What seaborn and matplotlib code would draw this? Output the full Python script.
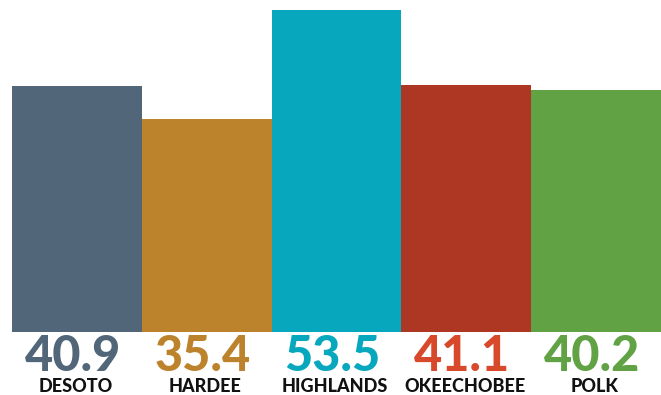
import matplotlib
matplotlib.use("Agg")
import matplotlib.pyplot as plt
import seaborn as sns
import pandas as pd

counties = ["DESOTO", "HARDEE", "HIGHLANDS", "OKEECHOBEE", "POLK"]
values = [40.9, 35.4, 53.5, 41.1, 40.2]
value_labels = ["40.9", "35.4", "53.5", "41.1", "40.2"]

bar_colors = ["#526679", "#bc822c", "#07a7bd", "#ad3723", "#61a244"]
label_colors = ["#526679", "#bc822c", "#07a7bd", "#d8492b", "#61a244"]

df = pd.DataFrame({"county": counties, "value": values})

sns.set_theme(style="white")
plt.rcParams["font.family"] = ["Lato", "DejaVu Sans"]

fig = plt.figure(figsize=(6.61, 3.95), dpi=100)
ax = fig.add_axes([12 / 661, 63 / 395, 649 / 661, 322 / 395])

sns.barplot(data=df, x="county", y="value", hue="county",
            palette=bar_colors, width=1.0, legend=False, ax=ax,
            saturation=1, linewidth=0)

ax.set_xlim(-0.5, 4.5)
ax.set_ylim(0, max(values))
ax.axis("off")

trans = ax.get_xaxis_transform()
for i, (lab, col, name) in enumerate(zip(value_labels, label_colors, counties)):
    ax.text(i - 0.03, -0.075, lab, transform=trans, ha="center", va="center",
            fontsize=35, fontweight="black", color=col, clip_on=False)
    ax.text(i - 0.01, -0.17, name, transform=trans, ha="center", va="center",
            fontsize=13, fontweight="black", color="#111111", clip_on=False)

fig.savefig("out.png", dpi=100, facecolor="white")
